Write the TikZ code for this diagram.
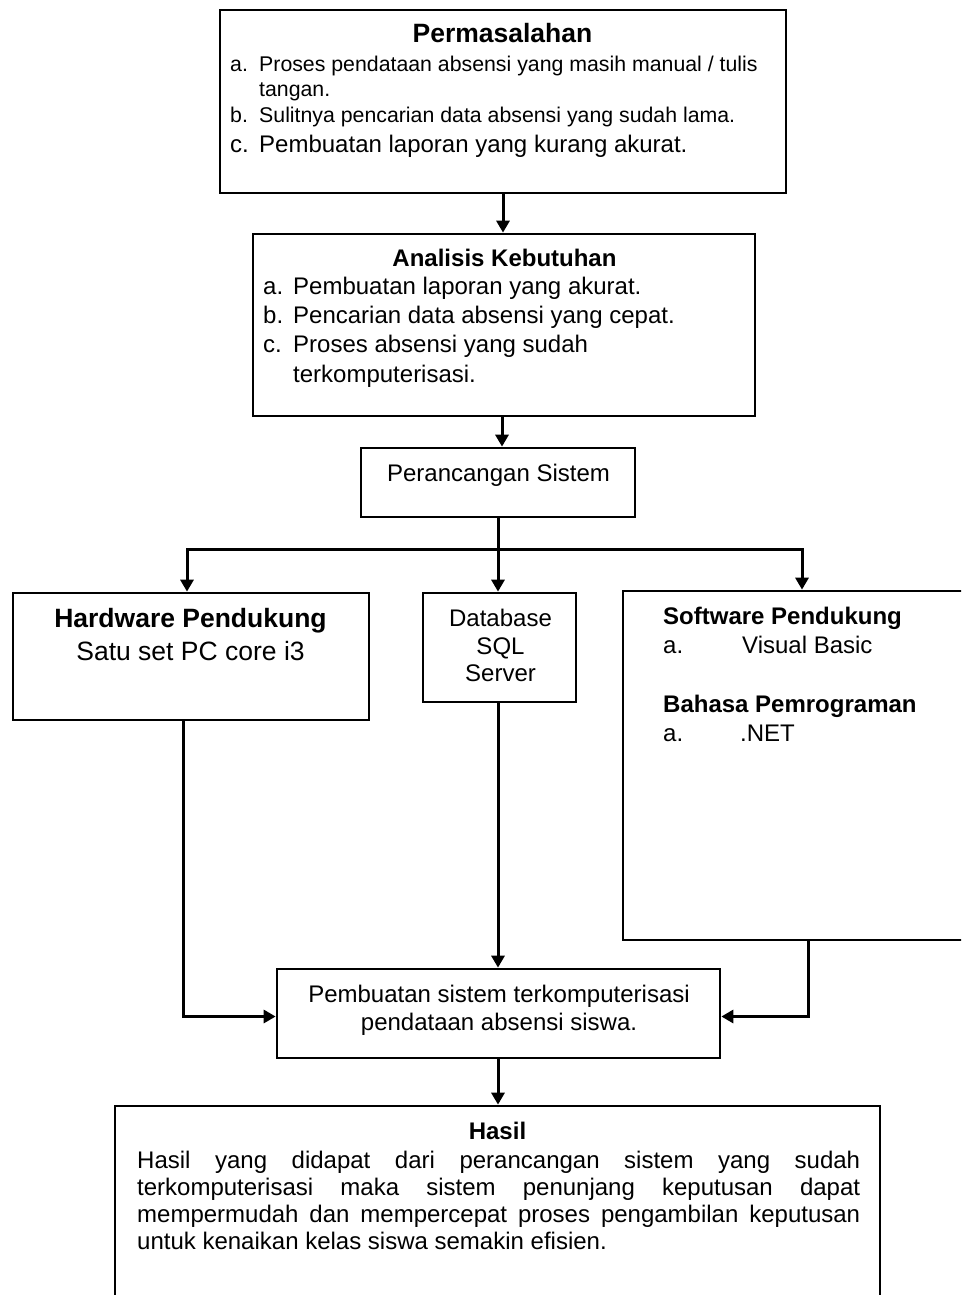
\documentclass[tikz,border=0pt]{standalone}
\usepackage{fontspec}
\setmainfont{Liberation Sans}
\usetikzlibrary{arrows.meta}
\begin{document}
\begin{tikzpicture}[x=1pt,y=-1pt,
  box/.style={draw,line width=2.7pt,inner sep=0pt,rectangle},
  arr/.style={line width=3pt,-{Triangle[length=12pt,width=13pt]}},
  ln/.style={line width=3pt},
  txt/.style={inner sep=0pt},
  fa/.style={txt,font=\fontsize{21.3}{25}\selectfont},
  fb/.style={txt,font=\fontsize{24}{27.5}\selectfont},
  fbb/.style={txt,font=\fontsize{24}{27.5}\selectfont\bfseries},
  fc/.style={txt,font=\fontsize{26.5}{33}\selectfont},
  fcb/.style={txt,font=\fontsize{26.5}{33}\selectfont\bfseries},
]
\useasboundingbox (0,0) rectangle (961,1295);
\fill[white] (0,0) rectangle (961,1295);
\clip (0,0) rectangle (961,1295);

% boxes
\node[box,minimum width=566pt,minimum height=183pt] (perm) at (503,101.5) {};
\node[box,minimum width=502pt,minimum height=182pt] (anal) at (504,325) {};
\node[box,minimum width=274pt,minimum height=69pt] (peran) at (498,482.5) {};
\node[box,minimum width=356pt,minimum height=127pt] (hw) at (191,656.5) {};
\node[box,minimum width=153pt,minimum height=109pt] (db) at (499.5,647.5) {};
\node[box,minimum width=352pt,minimum height=349pt] (sw) at (799,765.5) {};
\node[box,minimum width=443pt,minimum height=89pt] (pemb) at (498.5,1013.5) {};
\node[box,minimum width=765pt,minimum height=204pt] (hasil) at (497.5,1208) {};

% Permasalahan
\node[fcb,anchor=base] (permT) at (502.5,43) {Permasalahan};
\node[fa,anchor=base west] (pa) at (230,72) {a.};
\node[fa,anchor=base west] (pa1) at (259,72) {Proses pendataan absensi yang masih manual / tulis};
\node[fa,anchor=base west] (pa2) at (259,97) {tangan.};
\node[fa,anchor=base west] (pb) at (230,123) {b.};
\node[fa,anchor=base west] (pb1) at (259,123) {Sulitnya pencarian data absensi yang sudah lama.};
\node[fb,anchor=base west] (pc) at (230,152) {c.};
\node[fb,anchor=base west] (pc1) at (259,152) {Pembuatan laporan yang kurang akurat.};

% Analisis Kebutuhan
\node[fbb,anchor=base] (analT) at (504.5,266) {Analisis Kebutuhan};
\node[fb,anchor=base west] (aa) at (263,294) {a.};
\node[fb,anchor=base west] (aa1) at (293,294) {Pembuatan laporan yang akurat.};
\node[fb,anchor=base west] (ab) at (263,323) {b.};
\node[fb,anchor=base west] (ab1) at (293,323) {Pencarian data absensi yang cepat.};
\node[fb,anchor=base west] (ac) at (263,352) {c.};
\node[fb,anchor=base west] (ac1) at (293,352) {Proses absensi yang sudah};
\node[fb,anchor=base west] (ac2) at (293,382) {terkomputerisasi.};

% Perancangan
\node[fb,anchor=base] (peranT) at (498.5,481) {Perancangan Sistem};

% Hardware
\node[fcb,anchor=base] (hwT) at (190.5,627) {Hardware Pendukung};
\node[fc,anchor=base] (hw1) at (190.5,660) {Satu set PC core i3};

% Database
\node[fb,anchor=base] (db1) at (500.5,626) {Database};
\node[fb,anchor=base] (db2) at (500.5,654) {SQL};
\node[fb,anchor=base] (db3) at (500.5,681) {Server};

% Software
\node[fbb,anchor=base west] (swT) at (663,624) {Software Pendukung};
\node[fb,anchor=base west] (swa) at (663,653) {a.};
\node[fb,anchor=base west] (swa1) at (742,653) {Visual Basic};
\node[fbb,anchor=base west] (bpT) at (663,712) {Bahasa Pemrograman};
\node[fb,anchor=base west] (bpa) at (663,741) {a.};
\node[fb,anchor=base west] (bpa1) at (740,741) {.NET};

% Pembuatan
\node[fb,anchor=base] (pm1) at (499,1002) {Pembuatan sistem terkomputerisasi};
\node[fb,anchor=base] (pm2) at (499,1030) {pendataan absensi siswa.};

% Hasil
\node[fbb,anchor=base] (hsT) at (497.5,1139) {Hasil};
\node[fb,anchor=base west] (hs1) at (137,1168) {\makebox[723pt][s]{Hasil yang didapat dari perancangan sistem yang sudah}};
\node[fb,anchor=base west] (hs2) at (137,1195) {\makebox[723pt][s]{terkomputerisasi maka sistem penunjang keputusan dapat}};
\node[fb,anchor=base west] (hs3) at (137,1222) {\makebox[723pt][s]{mempermudah dan mempercepat proses pengambilan keputusan}};
\node[fb,anchor=base west] (hs4) at (137,1249) {untuk kenaikan kelas siswa semakin efisien.};

% connectors
\coordinate (bm) at (498,549);
\coordinate (bl) at (187,549);
\coordinate (br) at (802,549);
\draw[arr] (perm.south) -- (perm.south |- anal.north);
\draw[arr] ([xshift=-2pt]anal.south) -- ([xshift=-2pt]anal.south |- peran.north);
\draw[ln] (peran.south) -- (bm);
\draw[ln,line cap=rect] (bl) -- (br);
\draw[arr] (bl) -- (bl |- hw.north);
\draw[arr] (bm) -- (bm |- db.north);
\draw[arr] (br) -- (br |- sw.north);
\draw[arr] ([xshift=-8pt]hw.south) |- ([yshift=-3pt]pemb.west);
\draw[arr] ([xshift=9pt]sw.south) |- ([yshift=-3pt]pemb.east);
\draw[arr] (db.south -| bm) -- (bm |- pemb.north);
\draw[arr] (pemb.south -| bm) -- (bm |- hasil.north);
\end{tikzpicture}
\end{document}
